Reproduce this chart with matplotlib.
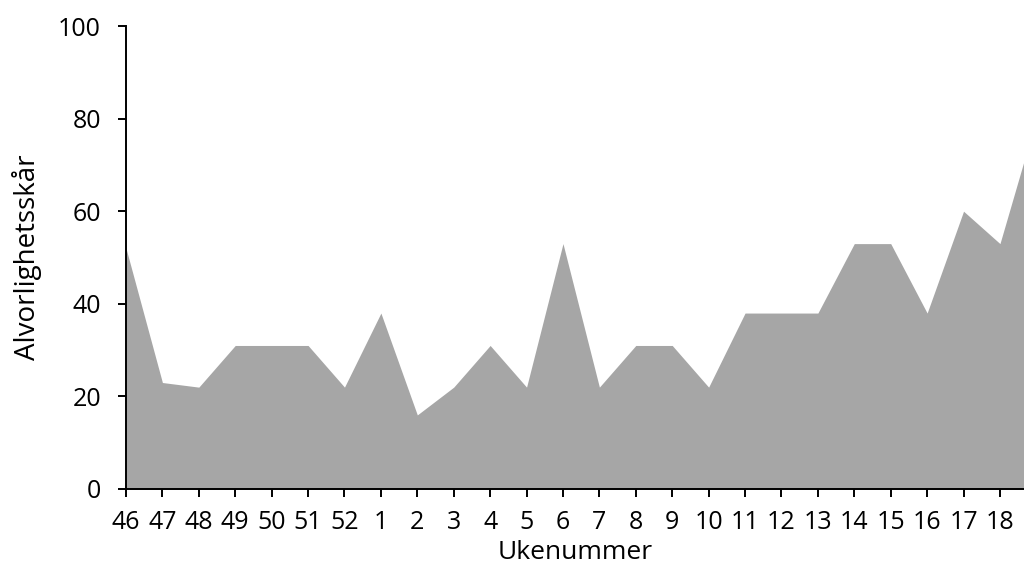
import matplotlib
matplotlib.use("Agg")
import matplotlib.pyplot as plt

weeks = ["46", "47", "48", "49", "50", "51", "52", "1", "2", "3", "4", "5", "6",
         "7", "8", "9", "10", "11", "12", "13", "14", "15", "16", "17", "18", "19"]
scores = [52, 23, 22, 31, 31, 31, 22, 38, 16, 22, 31, 22, 53,
          22, 31, 31, 22, 38, 38, 38, 53, 53, 38, 60, 53, 80]

plt.rcParams['font.family'] = ['Open Sans', 'DejaVu Sans']
W, H = 1024, 564
fig = plt.figure(figsize=(W / 100, H / 100), dpi=100)
ax = fig.add_axes([126 / W, (H - 489) / H, (W - 126) / W, (489 - 26) / H])

x = list(range(len(weeks)))
ax.fill_between(x, scores, 0, color="#a6a6a6", linewidth=0)

ax.set_xlim(0, 24.66)
ax.set_ylim(0, 100)
ax.set_yticks([0, 20, 40, 60, 80, 100])
ax.set_xticks(x[:25])
ax.set_xticklabels(weeks[:25])
ax.tick_params(axis="both", direction="out", length=6, width=1.4, labelsize=18, colors="black")
ax.tick_params(axis="x", pad=9)
ax.tick_params(axis="y", pad=12)
for s in ["top", "right"]:
    ax.spines[s].set_visible(False)
for s in ["left", "bottom"]:
    ax.spines[s].set_linewidth(1.4)
ax.set_xlabel("Ukenummer", fontsize=19)
ax.xaxis.set_label_coords(0.5, -0.111)
ax.set_ylabel("Alvorlighetsskår", fontsize=20)
ax.yaxis.set_label_coords(-0.093, 0.5)

fig.savefig("out.png", dpi=100)
